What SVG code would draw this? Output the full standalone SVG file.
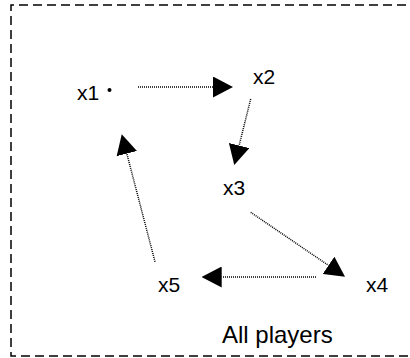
<svg xmlns="http://www.w3.org/2000/svg" width="410" height="358" viewBox="0 0 410 358">
<style>
text{font-family:"Liberation Sans",Arial,sans-serif;font-size:21px;fill:#000}
.conn{stroke:#000;stroke-width:1.5;stroke-dasharray:1 1;fill:none;marker-end:url(#ah)}
.frame{stroke:#000;stroke-width:1.5;stroke-dasharray:9 5;fill:none}
</style>
<defs>
<marker id="ah" markerUnits="userSpaceOnUse" viewBox="0 0 20 21" refX="0" refY="10.5" markerWidth="20" markerHeight="21" orient="auto">
<path d="M0,0 L20,10.5 L0,21 z" fill="#000"/>
</marker>
</defs>
<path class="frame" d="M420,5 H11 V356 H420"/>
<g id="x1"><text x="77" y="99.5">x1</text><circle cx="109.5" cy="90" r="2" fill="#000"/></g>
<g id="x2"><text x="253" y="84">x2</text></g>
<g id="x3"><text x="223" y="195">x3</text></g>
<g id="x4"><text x="366" y="291.5">x4</text></g>
<g id="x5"><text x="158" y="291.5">x5</text></g>
<g id="label"><text x="222" y="343" style="font-size:24px">All players</text></g>
<g id="connectors">
<path class="conn" d="M138,87 L213,87"/>
<path class="conn" d="M250.7,99 L239.1,145.6"/>
<path class="conn" d="M250.7,212.3 L328.5,265.4"/>
<path class="conn" d="M316,277 L221.7,277"/>
<path class="conn" d="M155,261.7 L126.8,153.6"/>
</g>
</svg>
